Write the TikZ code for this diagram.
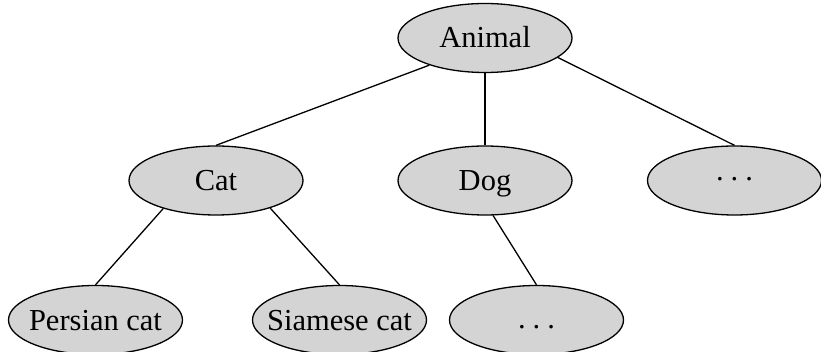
\documentclass[tikz,border=0pt]{standalone}
\usepackage{fontspec}
\setmainfont{Liberation Serif}
\usetikzlibrary{shapes.geometric}
\newcommand\lbl[2][-10pt]{\raisebox{#1}[0pt][0pt]{\makebox[0pt]{#2}}}
\begin{document}
\begin{tikzpicture}[x=1pt,y=-1pt,
  cls/.style={ellipse,draw=black,fill=black!17,line width=1.3pt,
    minimum width=174pt,minimum height=69pt,inner sep=0pt,
    font=\fontsize{30.5}{32}\selectfont},
  edge/.style={line width=1.3pt}]
\useasboundingbox (0,0) rectangle (821,352);
\node[cls] (animal) at (485,38) {\lbl{Animal}};
\node[cls] (cat) at (216,180.5) {\lbl{Cat}};
\node[cls] (dog) at (485,180.5) {\lbl{Dog}};
\node[cls] (more1) at (734.5,180.5) {\lbl[-0.5pt]{.\hspace{7pt}.\hspace{7pt}.}};
\node[cls] (persian) at (95.5,320) {\lbl{Persian cat}};
\node[cls] (siamese) at (339.5,320) {\lbl{Siamese cat}};
\node[cls] (more2) at (536.5,320) {\lbl[-8pt]{.\hspace{7pt}.\hspace{7pt}.}};
\draw[edge] (animal.206) -- (cat.north);
\draw[edge] (animal.south) -- (dog.north);
\draw[edge] (animal.-15) -- (more1.north);
\draw[edge] (cat.208) -- (persian.north);
\draw[edge] (cat.-27) -- (siamese.north);
\draw[edge] (dog.-77) -- (more2.north);
\end{tikzpicture}
\end{document}
